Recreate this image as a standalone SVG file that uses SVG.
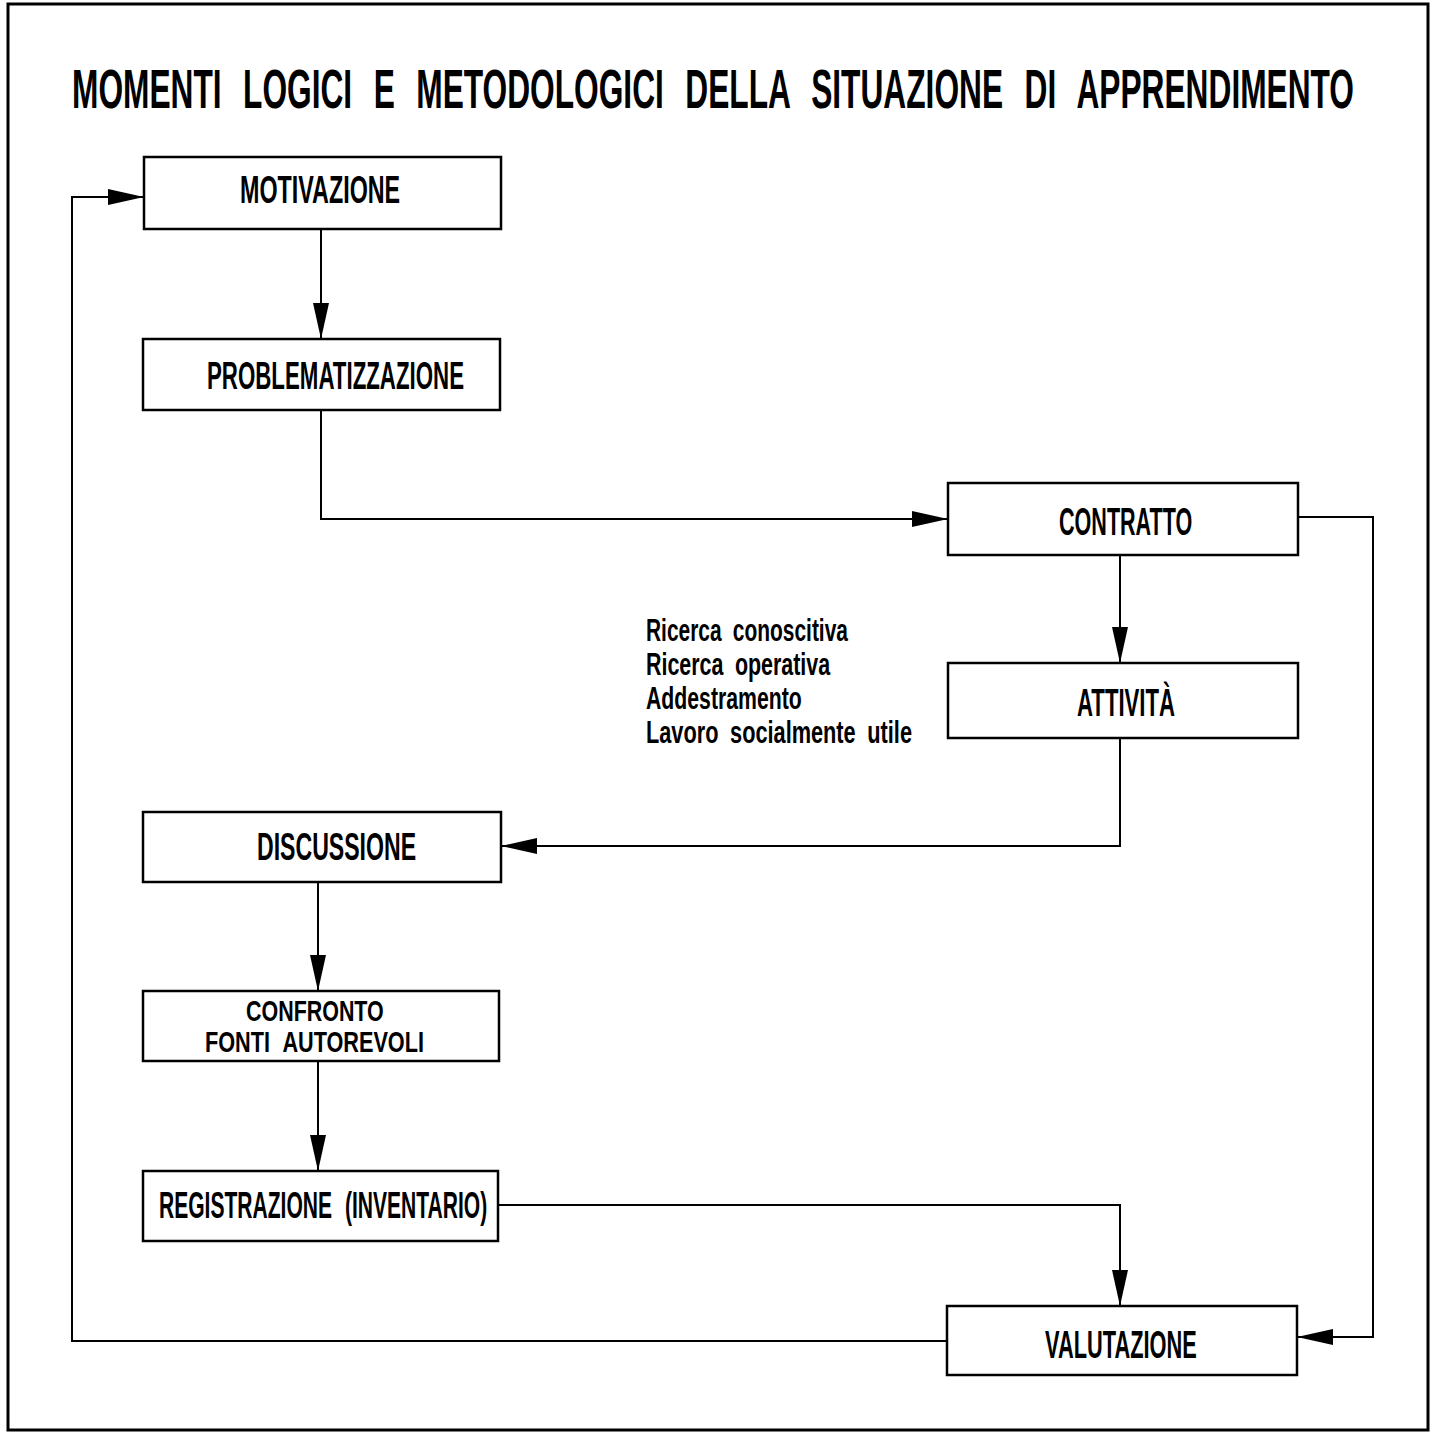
<svg xmlns="http://www.w3.org/2000/svg" width="1437" height="1436" viewBox="0 0 1437 1436">
<style>
.box{fill:#fff;stroke:#000;stroke-width:2.5}
.con{fill:none;stroke:#000;stroke-width:2}
text{font-family:"Liberation Sans",Arial,sans-serif;fill:#000;font-weight:bold}
.t{font-size:38px}
.s{font-size:31px;word-spacing:8px}
</style>
<defs>
<marker id="ah" markerUnits="userSpaceOnUse" markerWidth="38" markerHeight="18" refX="36" refY="8" orient="auto">
<path d="M0,0 L36,8 L0,16 z" fill="#000"/>
</marker>
</defs>
<rect x="0" y="0" width="1437" height="1436" fill="#fff"/>
<rect x="8" y="4" width="1420" height="1426" fill="none" stroke="#000" stroke-width="3"/>
<text transform="translate(72,108) scale(0.5,1)" font-size="55" word-spacing="22" textLength="2564" lengthAdjust="spacingAndGlyphs">MOMENTI LOGICI E METODOLOGICI DELLA SITUAZIONE DI APPRENDIMENTO</text>

<g id="connectors">
<path class="con" d="M321,229 V339" marker-end="url(#ah)"/>
<path class="con" d="M321,410 V519 H948" marker-end="url(#ah)"/>
<path class="con" d="M1120,555 V663" marker-end="url(#ah)"/>
<path class="con" d="M1120,738 V846 H501" marker-end="url(#ah)"/>
<path class="con" d="M318,882 V991" marker-end="url(#ah)"/>
<path class="con" d="M318,1061 V1171" marker-end="url(#ah)"/>
<path class="con" d="M498,1205 H1120 V1306" marker-end="url(#ah)"/>
<path class="con" d="M1298,517 H1373 V1337 H1297" marker-end="url(#ah)"/>
<path class="con" d="M947,1341 H72 V197 H144" marker-end="url(#ah)"/>
</g>

<g id="motivazione">
<rect class="box" x="144" y="157" width="357" height="72"/>
<text class="t" transform="translate(240,203) scale(0.56,1)" textLength="286" lengthAdjust="spacingAndGlyphs">MOTIVAZIONE</text>
</g>
<g id="problematizzazione">
<rect class="box" x="143" y="339" width="357" height="71"/>
<text class="t" transform="translate(207,389) scale(0.56,1)" textLength="459" lengthAdjust="spacingAndGlyphs">PROBLEMATIZZAZIONE</text>
</g>
<g id="contratto">
<rect class="box" x="948" y="483" width="350" height="72"/>
<text class="t" transform="translate(1059,535) scale(0.56,1)" textLength="238" lengthAdjust="spacingAndGlyphs">CONTRATTO</text>
</g>
<g id="attivita">
<rect class="box" x="948" y="663" width="350" height="75"/>
<text class="t" transform="translate(1077,716) scale(0.56,1)" textLength="175" lengthAdjust="spacingAndGlyphs">ATTIVITÀ</text>
</g>
<g id="attivita-note">
<text class="s" transform="translate(646,641) scale(0.66,1)" textLength="306" lengthAdjust="spacingAndGlyphs">Ricerca conoscitiva</text>
<text class="s" transform="translate(646,675) scale(0.66,1)" textLength="279" lengthAdjust="spacingAndGlyphs">Ricerca operativa</text>
<text class="s" transform="translate(646,709) scale(0.66,1)" textLength="236" lengthAdjust="spacingAndGlyphs">Addestramento</text>
<text class="s" transform="translate(646,743) scale(0.66,1)" textLength="403" lengthAdjust="spacingAndGlyphs">Lavoro socialmente utile</text>
</g>
<g id="discussione">
<rect class="box" x="143" y="812" width="358" height="70"/>
<text class="t" transform="translate(257,860) scale(0.56,1)" textLength="284" lengthAdjust="spacingAndGlyphs">DISCUSSIONE</text>
</g>
<g id="confronto">
<rect class="box" x="143" y="991" width="356" height="70"/>
<text transform="translate(246,1021) scale(0.56,1)" font-size="30" textLength="246" lengthAdjust="spacingAndGlyphs">CONFRONTO</text>
<text transform="translate(205,1052) scale(0.56,1)" font-size="30" word-spacing="10" textLength="391" lengthAdjust="spacingAndGlyphs">FONTI AUTOREVOLI</text>
</g>
<g id="registrazione">
<rect class="box" x="143" y="1171" width="355" height="70"/>
<text transform="translate(159,1218) scale(0.56,1)" font-size="36" word-spacing="12" textLength="586" lengthAdjust="spacingAndGlyphs">REGISTRAZIONE (INVENTARIO)</text>
</g>
<g id="valutazione">
<rect class="box" x="947" y="1306" width="350" height="69"/>
<text class="t" transform="translate(1045,1358) scale(0.56,1)" textLength="271" lengthAdjust="spacingAndGlyphs">VALUTAZIONE</text>
</g>
</svg>
